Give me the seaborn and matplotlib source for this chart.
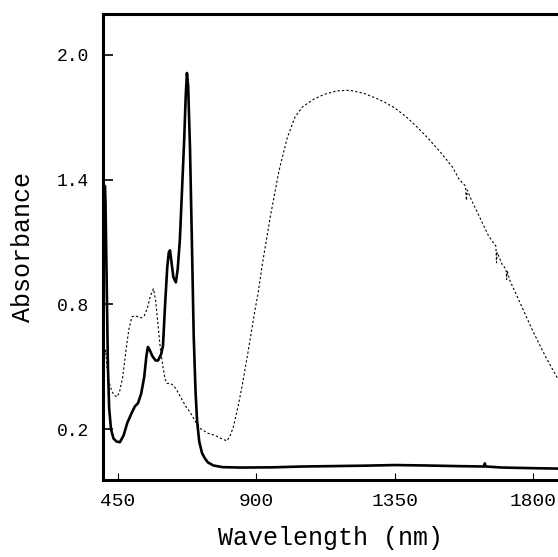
import pandas as pd
import matplotlib.pyplot as plt
import seaborn as sns

sns.set_theme(style="white")
plt.rcParams['font.family'] = ['Liberation Mono', 'DejaVu Sans']

# Solid spectrum (thick line)
solid_wl = [401, 403, 405, 407, 409, 411, 414, 417, 421, 427, 435, 445, 456, 468, 480,
            495, 505, 515, 525, 535, 542, 547, 553, 562, 572, 580, 590, 596, 603, 610,
            615, 619, 624, 630, 638, 644, 651, 658, 665, 670, 674, 678, 684, 690, 696,
            702, 707, 714, 723, 732, 742, 760, 790, 850, 950, 1050, 1150, 1250, 1350,
            1450, 1550, 1640, 1643, 1646, 1700, 1800, 1881]
solid_abs = [1.15, 1.32, 1.22, 1.37, 1.30, 1.10, 0.80, 0.50, 0.30, 0.20, 0.155, 0.14, 0.137, 0.17, 0.23,
             0.28, 0.31, 0.325, 0.37, 0.45, 0.55, 0.595, 0.58, 0.55, 0.53, 0.53, 0.56, 0.60, 0.80, 0.98,
             1.05, 1.06, 1.00, 0.93, 0.906, 0.97, 1.11, 1.35, 1.59, 1.80, 1.913, 1.85, 1.55, 1.11, 0.65,
             0.38, 0.24, 0.14, 0.085, 0.06, 0.04, 0.025, 0.017, 0.015, 0.016, 0.02, 0.022, 0.024, 0.027,
             0.025, 0.022, 0.020, 0.035, 0.020, 0.015, 0.012, 0.010]

# Dotted spectrum
dotted_wl = [401, 404, 407, 410, 414, 420, 430, 440, 447, 455, 465, 475, 485, 495, 505,
             515, 525, 535, 545, 555, 565, 572, 580, 588, 596, 603, 609, 620, 630, 640,
             655, 670, 685, 700, 720, 742, 765, 785, 804, 815, 825, 840, 855, 872, 885,
             895, 905, 920, 945, 973, 1000, 1025, 1050, 1084, 1120, 1161, 1204, 1250, 1300,
             1320, 1350, 1389, 1425, 1464, 1500, 1538, 1560, 1580, 1583, 1586, 1600, 1626, 1655,
             1679, 1681, 1683, 1700, 1712, 1714, 1716, 1724, 1760, 1798, 1840, 1881]
dotted_abs = [0.40, 0.48, 0.56, 0.58, 0.50, 0.43, 0.38, 0.36, 0.355, 0.38, 0.45, 0.57, 0.68, 0.74, 0.745,
              0.74, 0.735, 0.745, 0.78, 0.84, 0.875, 0.82, 0.70, 0.58, 0.50, 0.44, 0.42, 0.42, 0.41, 0.39,
              0.35, 0.31, 0.28, 0.24, 0.20, 0.18, 0.17, 0.155, 0.143, 0.17, 0.21, 0.306, 0.42, 0.565, 0.68,
              0.77, 0.85, 1.00, 1.22, 1.44, 1.60, 1.70, 1.75, 1.785, 1.81, 1.827, 1.83, 1.815, 1.785,
              1.77, 1.745, 1.70, 1.65, 1.59, 1.53, 1.46, 1.40, 1.37, 1.30, 1.35, 1.30, 1.22, 1.13,
              1.08, 1.00, 1.05, 0.99, 0.97, 0.92, 0.96, 0.916, 0.80, 0.675, 0.55, 0.44]

x_ticks = [450, 900, 1350, 1800]
y_ticks = [0.2, 0.8, 1.4, 2.0]

solid_df = pd.DataFrame({'wl': solid_wl, 'abs': solid_abs})
dotted_df = pd.DataFrame({'wl': dotted_wl, 'abs': dotted_abs})

fig = plt.figure(figsize=(5.58, 5.57), dpi=100)
ax = fig.add_axes([0.1846, 0.1382, 0.8154, 0.8367])

sns.lineplot(data=dotted_df, x='wl', y='abs', ax=ax, color='black',
             linewidth=0.8, linestyle=(0, (2, 2)), sort=False)
sns.lineplot(data=solid_df, x='wl', y='abs', ax=ax, color='black',
             linewidth=1.9, sort=False)

ax.set_xlim(401, 1881)
ax.set_ylim(-0.045, 2.197)
ax.set_xticks(x_ticks)
ax.set_yticks(y_ticks)
ax.set_xticklabels([str(t) for t in x_ticks])
ax.set_yticklabels([f'{t:.1f}' for t in y_ticks])

for side in ['left', 'top', 'bottom']:
    ax.spines[side].set_linewidth(2.2)
    ax.spines[side].set_color('black')
ax.spines['right'].set_visible(False)

ax.tick_params(axis='y', direction='in', length=7, width=1.2, pad=10,
               labelsize=13, colors='black', left=True)
ax.tick_params(axis='x', direction='in', length=5, width=0.8, pad=9,
               labelsize=14, colors='black', bottom=True)

ax.set_xlabel('Wavelength (nm)', fontsize=18, labelpad=12, color='black')
ax.set_ylabel('Absorbance', fontsize=18, labelpad=16, color='black')

fig.savefig('out.png', dpi=100)
